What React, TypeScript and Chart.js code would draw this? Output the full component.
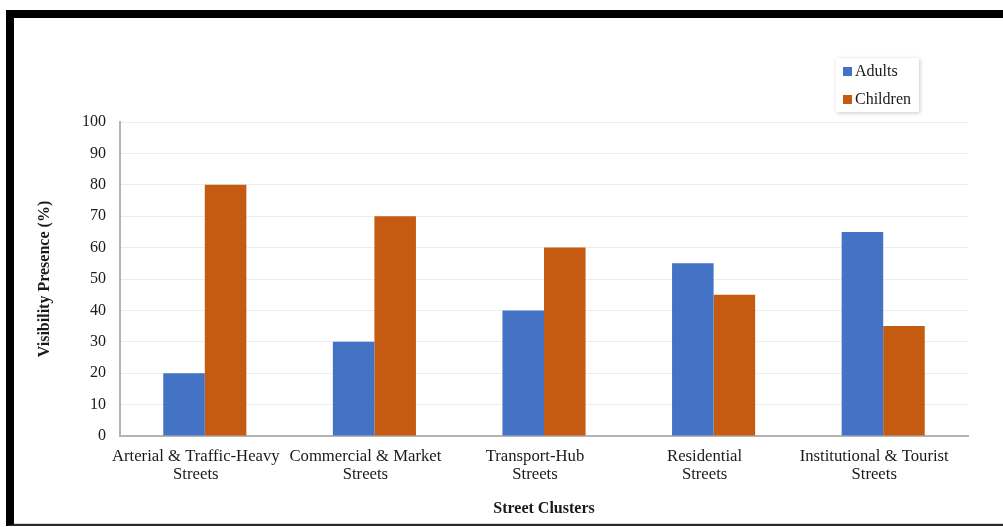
import React, { useEffect, useRef } from "react";
import { Chart, registerables } from "chart.js";

Chart.register(...registerables);

const categories: string[][] = [
  ["Arterial & Traffic-Heavy", "Streets"],
  ["Commercial & Market", "Streets"],
  ["Transport-Hub", "Streets"],
  ["Residential", "Streets"],
  ["Institutional & Tourist", "Streets"],
];
const adults = [20, 30, 40, 55, 65];
const children = [80, 70, 60, 45, 35];

const SERIF = "'Liberation Serif', 'Times New Roman', serif";
const TEXT = "#1a1a1a";

// Legend drawn as a floating box in the top-right corner of the figure
const boxLegend = {
  id: "boxLegend",
  afterDraw(chart: Chart) {
    const ctx = chart.ctx;
    const x = 836, y = 58, w = 83, h = 54;
    ctx.save();
    ctx.shadowColor = "rgba(0,0,0,0.22)";
    ctx.shadowBlur = 4;
    ctx.shadowOffsetX = 1;
    ctx.shadowOffsetY = 1;
    ctx.fillStyle = "#ffffff";
    ctx.fillRect(x, y, w, h);
    ctx.restore();
    ctx.save();
    ctx.font = `16px ${SERIF}`;
    ctx.textBaseline = "middle";
    chart.data.datasets.forEach((ds, i) => {
      const cy = y + 13 + i * 28;
      ctx.fillStyle = ds.backgroundColor as string;
      ctx.fillRect(x + 7, cy - 4, 9, 9);
      ctx.fillStyle = TEXT;
      ctx.fillText(ds.label as string, x + 19, cy + 1);
    });
    ctx.restore();
  },
};

export default function App() {
  const ref = useRef<HTMLCanvasElement | null>(null);

  useEffect(() => {
    if (!ref.current) return;
    const chart = new Chart(ref.current, {
      type: "bar",
      data: {
        labels: categories,
        datasets: [
          { label: "Adults", data: adults, backgroundColor: "#4472C4" },
          { label: "Children", data: children, backgroundColor: "#C55A11" },
        ],
      },
      options: {
        animation: false,
        responsive: false,
        layout: { padding: { left: 0, top: 122, right: 35, bottom: 0 } },
        datasets: {
          bar: { categoryPercentage: 0.49, barPercentage: 1 },
        },
        plugins: {
          legend: { display: false },
          tooltip: { enabled: false },
        },
        scales: {
          x: {
            grid: { display: false, drawTicks: false },
            border: { display: true, color: "#b4b4b4", width: 2 },
            ticks: {
              color: TEXT,
              padding: 12,
              labelOffset: -9,
              maxRotation: 0,
              autoSkip: false,
              font: { family: SERIF, size: 16.7, lineHeight: 1.08 },
            },
            title: {
              display: true,
              text: "Street Clusters",
              color: TEXT,
              padding: { top: 0, bottom: 9 },
              font: { family: SERIF, size: 16, weight: "bold", lineHeight: 1.125 },
            },
            afterFit(scale: any) {
              scale.height = 91;
            },
          },
          y: {
            min: 0,
            max: 100,
            ticks: {
              stepSize: 10,
              color: TEXT,
              padding: 14,
              font: { family: SERIF, size: 16, lineHeight: 1.125 },
            },
            grid: { color: "#ececec", lineWidth: 1, drawTicks: false },
            border: { display: true, color: "#b4b4b4", width: 2 },
            title: {
              display: true,
              text: "Visibility Presence (%)",
              color: TEXT,
              padding: { top: 36, bottom: 0 },
              font: { family: SERIF, size: 16, weight: "bold", lineHeight: 1.125 },
            },
            afterFit(scale: any) {
              scale.width = 120;
            },
          },
        },
      },
      plugins: [boxLegend],
    });
    return () => chart.destroy();
  }, []);

  return (
    <div
      style={{
        position: "fixed",
        left: 0,
        top: 0,
        width: 1003,
        height: 527,
        background: "#ffffff",
        overflow: "hidden",
      }}
    >
      <div
        style={{
          position: "absolute",
          left: 6,
          top: 10,
          width: 1010,
          height: 516,
          boxSizing: "border-box",
          borderTop: "8px solid #000",
          borderLeft: "8px solid #000",
          borderBottom: "2px solid #2a2a2a",
          boxShadow: "inset 0 -1px 0 #d6d6d6",
        }}
      />
      <canvas
        ref={ref}
        width={1003}
        height={527}
        style={{ position: "absolute", left: 0, top: 0 }}
      />
    </div>
  );
}
